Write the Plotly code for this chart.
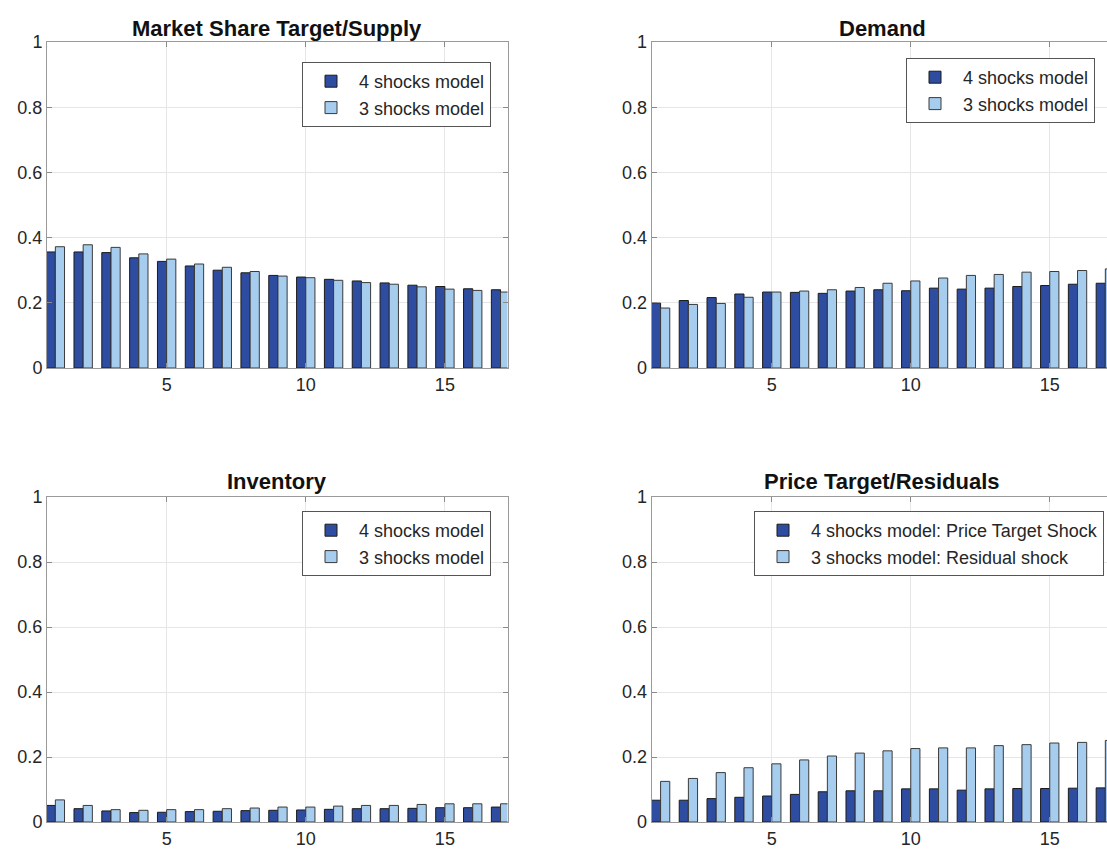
import plotly.graph_objects as go

periods = list(range(1, 18))

titles = ["Market Share Target/Supply", "Demand", "Inventory", "Price Target/Residuals"]

market_4 = [0.356, 0.356, 0.354, 0.338, 0.327, 0.313, 0.300, 0.292, 0.284, 0.279, 0.272, 0.267, 0.261, 0.254, 0.250, 0.243, 0.240]
market_3 = [0.372, 0.378, 0.370, 0.350, 0.334, 0.319, 0.309, 0.296, 0.282, 0.277, 0.269, 0.262, 0.257, 0.249, 0.242, 0.238, 0.233]

demand_4 = [0.199, 0.207, 0.216, 0.227, 0.233, 0.232, 0.229, 0.236, 0.240, 0.237, 0.245, 0.242, 0.245, 0.250, 0.253, 0.257, 0.260]
demand_3 = [0.184, 0.195, 0.198, 0.217, 0.233, 0.236, 0.240, 0.247, 0.260, 0.267, 0.276, 0.284, 0.287, 0.294, 0.296, 0.299, 0.304]

inventory_4 = [0.051, 0.041, 0.034, 0.029, 0.030, 0.032, 0.033, 0.035, 0.036, 0.037, 0.039, 0.041, 0.041, 0.042, 0.044, 0.044, 0.046]
inventory_3 = [0.068, 0.051, 0.038, 0.036, 0.038, 0.038, 0.041, 0.043, 0.046, 0.046, 0.049, 0.051, 0.051, 0.054, 0.056, 0.056, 0.056]

price_4 = [0.067, 0.067, 0.072, 0.076, 0.080, 0.085, 0.093, 0.096, 0.096, 0.102, 0.102, 0.098, 0.102, 0.103, 0.103, 0.104, 0.105]
price_3 = [0.125, 0.134, 0.152, 0.167, 0.179, 0.191, 0.203, 0.212, 0.219, 0.226, 0.228, 0.228, 0.235, 0.238, 0.243, 0.245, 0.251]

names_4 = ["4 shocks model", "4 shocks model", "4 shocks model", "4 shocks model: Price Target Shock"]
names_3 = ["3 shocks model", "3 shocks model", "3 shocks model", "3 shocks model: Residual shock"]

series_4 = [market_4, demand_4, inventory_4, price_4]
series_3 = [market_3, demand_3, inventory_3, price_3]

y_ticks = [0, 0.2, 0.4, 0.6, 0.8, 1]
x_ticks = [5, 10, 15]

DARK = "#2E4DA0"
LIGHT = "#A7CDEE"
FONT = "Liberation Sans, Arial, sans-serif"

W, H = 1107, 850


def px_x(sx):
    return sx / W


def px_y(sy):
    return (H - sy) / H


# panel boxes in screen pixels (left, right, top, bottom)
panels = [
    (47, 507.5, 42, 368),
    (651.7, 1107, 42, 368),
    (47, 507.5, 497, 822),
    (651.7, 1107, 497, 822),
]
x_ranges = [[0.7, 17.25], [0.68, 17.06], [0.7, 17.25], [0.68, 17.06]]
title_x = [277, 882, 277, 882]
title_y = [28, 28, 481, 481]
legend_pos = [(491, 62), (1095, 58), (491, 511), (1104, 511)]

fig = go.Figure()
layout = dict(
    template="none",
    width=W, height=H, autosize=False,
    margin=dict(l=0, r=0, t=0, b=0, pad=0),
    paper_bgcolor="white", plot_bgcolor="white",
    font=dict(family=FONT, size=18, color="#262626"),
    barmode="group", bargap=0.34, bargroupgap=0.0,
    showlegend=True,
    annotations=[],
)

for i in range(4):
    ax = "" if i == 0 else str(i + 1)
    lg = "legend" if i == 0 else "legend" + str(i + 1)
    l, r, t, b = panels[i]
    fig.add_trace(go.Bar(
        x=periods, y=series_4[i], name=names_4[i],
        marker=dict(color=DARK, line=dict(color="#1b1b1b", width=1)),
        xaxis="x" + ax, yaxis="y" + ax, legend=lg,
    ))
    fig.add_trace(go.Bar(
        x=periods, y=series_3[i], name=names_3[i],
        marker=dict(color=LIGHT, line=dict(color="#3a3a3a", width=1)),
        xaxis="x" + ax, yaxis="y" + ax, legend=lg,
    ))
    right_col = i in (1, 3)
    layout["xaxis" + ax] = dict(
        domain=[px_x(l), min(px_x(r), 1.0)], range=x_ranges[i], anchor="y" + ax, automargin=False,
        tickvals=x_ticks, ticks="inside", ticklen=5, tickcolor="#8a8a8a",
        showline=True, linecolor="#9a9a9a", linewidth=1, mirror="ticks",
        showgrid=True, gridcolor="#E6E6E6", gridwidth=1, zeroline=False,
        tickfont=dict(size=18, color="#262626"),
    )
    layout["yaxis" + ax] = dict(
        domain=[px_y(b), px_y(t)], range=[0, 1], anchor="x" + ax, automargin=False,
        tickvals=y_ticks, ticks="inside", ticklen=5, tickcolor="#8a8a8a",
        showline=True, linecolor="#9a9a9a", linewidth=1,
        mirror=False if right_col else "ticks",
        showgrid=True, gridcolor="#E6E6E6", gridwidth=1, zeroline=False,
        tickfont=dict(size=18, color="#262626"),
    )
    lx, ly = legend_pos[i]
    layout[lg] = dict(
        x=px_x(lx), y=px_y(ly), xanchor="right", yanchor="top",
        bgcolor="white", bordercolor="#555555", borderwidth=1,
        font=dict(family=FONT, size=18, color="#262626"),
        tracegroupgap=0, itemwidth=46,
    )
    layout["annotations"].append(dict(
        text="<b>" + titles[i] + "</b>", x=px_x(title_x[i]), y=px_y(title_y[i]),
        xref="paper", yref="paper", xanchor="center", yanchor="middle",
        showarrow=False, font=dict(family=FONT, size=22, color="#111111"),
    ))

fig.update_layout(**layout)
fig.write_html(
    "out.html",
    config={"displayModeBar": False},
    post_script="document.body.style.margin='0';document.documentElement.style.overflow='hidden';document.body.style.overflow='hidden';",
)
